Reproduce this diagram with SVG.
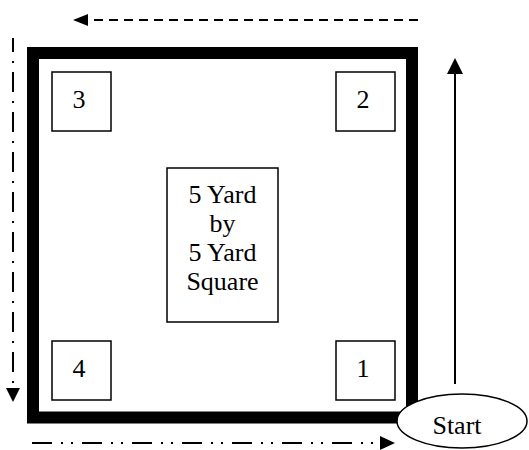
<svg xmlns="http://www.w3.org/2000/svg" width="529" height="450" viewBox="0 0 529 450">
<style>
.t{font-family:"Liberation Serif","Times New Roman",serif;font-size:26px;fill:#000;text-anchor:middle}
.box{fill:#fff;stroke:#000;stroke-width:1.5}
.ln{fill:none;stroke:#000;stroke-width:2}
.head{fill:#000;stroke:none}
</style>
<rect width="529" height="450" fill="#fff"/>
<g id="field">
<rect x="33" y="53" width="379" height="364.5" fill="#fff" stroke="#000" stroke-width="12" stroke-linejoin="miter"/>
</g>
<g id="cone3"><rect class="box" x="52" y="72" width="59" height="59"/><text class="t" x="79" y="108">3</text></g>
<g id="cone2"><rect class="box" x="336" y="72" width="59" height="59"/><text class="t" x="363" y="108">2</text></g>
<g id="cone4"><rect class="box" x="52" y="341" width="59" height="59"/><text class="t" x="79" y="377">4</text></g>
<g id="cone1"><rect class="box" x="336" y="341" width="59" height="59"/><text class="t" x="363" y="377">1</text></g>
<g id="label">
<rect class="box" x="167" y="168" width="111" height="154" stroke-width="1.2"/>
<text class="t" x="222.5" y="203">5 Yard</text>
<text class="t" x="222.5" y="232">by</text>
<text class="t" x="222.5" y="261">5 Yard</text>
<text class="t" x="222.5" y="290">Square</text>
</g>
<g id="connectors">
<line class="ln" x1="455" y1="384" x2="455" y2="72"/>
<polygon class="head" points="455,58 447,74 463,74"/>
<line class="ln" x1="418" y1="20" x2="86" y2="20" stroke-dasharray="9 6"/>
<polygon class="head" points="73,20 88,14 88,26"/>
<line class="ln" x1="13" y1="38" x2="13" y2="389" stroke-dasharray="20 9 2 9" stroke-dashoffset="6"/>
<polygon class="head" points="13,402 6,388 20,388"/>
<line class="ln" x1="32" y1="443" x2="381" y2="443" stroke-dasharray="20 9 2 8 2 9"/>
<polygon class="head" points="395,443 380,436 380,450"/>
</g>
<g id="start">
<ellipse cx="462" cy="421" rx="65" ry="27" fill="#fff" stroke="#000" stroke-width="1.5"/>
<text class="t" x="457" y="434">Start</text>
</g>
</svg>
